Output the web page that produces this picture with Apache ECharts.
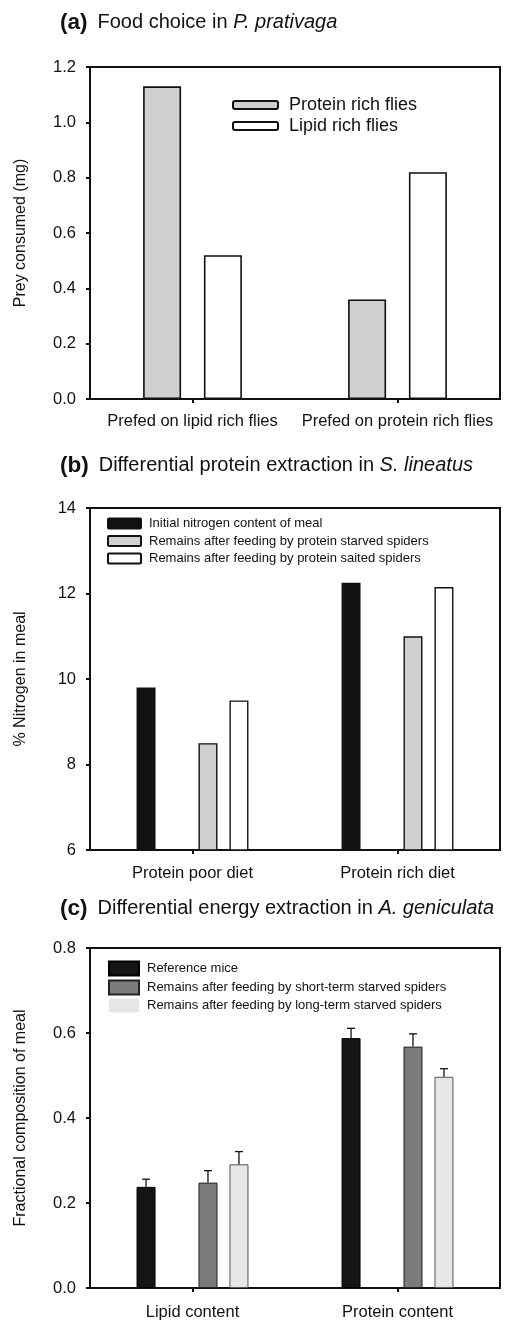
<!DOCTYPE html>
<html>
<head>
<meta charset="utf-8">
<script src="https://cdn.jsdelivr.net/npm/echarts@6/dist/echarts.min.js"></script>
<style>
html,body{margin:0;padding:0;background:#fff;}
#chart{width:509px;height:1323px;}
</style>
</head>
<body>
<div id="chart"></div>
<script>
// ---- Panel (a) data ----
const catsA = ['Prefed on lipid rich flies', 'Prefed on protein rich flies'];
const proteinRichFlies = [1.13, 0.36];
const lipidRichFlies = [0.52, 0.82];
const ticksA = [0, 0.2, 0.4, 0.6, 0.8, 1.0, 1.2];

// ---- Panel (b) data ----
const catsB = ['Protein poor diet', 'Protein rich diet'];
const initialNitrogen = [9.8, 12.25];
const proteinStarved = [8.5, 11.0];
const proteinSated = [9.5, 12.15];
const ticksB = [6, 8, 10, 12, 14];

// ---- Panel (c) data ----
const catsC = ['Lipid content', 'Protein content'];
const referenceMice = [0.238, 0.588];
const shortTermStarved = [0.248, 0.568];
const longTermStarved = [0.291, 0.497];
const errReference = [0.018, 0.023];
const errShort = [0.028, 0.030];
const errLong = [0.030, 0.019];
const ticksC = [0, 0.2, 0.4, 0.6, 0.8];

const FONT = 'Liberation Sans, Arial, Helvetica, sans-serif';
const INK = '#111';

const chart = echarts.init(document.getElementById('chart'), null, {renderer: 'canvas'});

const BW_A = 38, GAP_A = 0.6;
const BW_BC = 19, GAP_BC = 0.63;

function titleText(tag, plain, ital) {
  return '{b|' + tag + '}{s| }{n|' + plain + '}{i|' + ital + '}';
}
const titleRich = {
  b: {fontFamily: FONT, fontWeight: 'bold', fontSize: 22.5, color: INK},
  s: {fontFamily: FONT, fontWeight: 'normal', fontSize: 20, width: 10, color: INK},
  n: {fontFamily: FONT, fontWeight: 'normal', fontSize: 20, color: INK},
  i: {fontFamily: FONT, fontWeight: 'normal', fontSize: 20, fontStyle: 'italic', color: INK}
};

function yAxisCfg(gi, min, max, interval, name, fmt) {
  return {
    type: 'value', gridIndex: gi, min: min, max: max, interval: interval,
    name: name, nameLocation: 'middle', nameGap: 61,
    nameTextStyle: {fontFamily: FONT, fontSize: 16, color: INK},
    axisLine: {show: true, lineStyle: {color: INK, width: 2}},
    axisTick: {show: true, length: 4, lineStyle: {color: INK, width: 2}},
    axisLabel: {fontFamily: FONT, fontSize: 16.5, color: INK, margin: 14, formatter: fmt},
    splitLine: {show: false}
  };
}
function xAxisCfg(gi, cats, size, margin) {
  return {
    type: 'category', gridIndex: gi, data: cats,
    axisLine: {show: true, lineStyle: {color: INK, width: 2}},
    axisTick: {show: true, alignWithLabel: true, length: 4, lineStyle: {color: INK, width: 2}},
    axisLabel: {fontFamily: FONT, fontSize: size, color: INK, margin: margin, interval: 0},
    splitLine: {show: false}
  };
}

function errRender(bw, gap) {
  return function (params, api) {
    const ci = api.value(0), v = api.value(1), e = api.value(2), slot = api.value(3);
    const off = (slot - 1.5) * bw * (1 + gap);
    const p0 = api.coord([ci, v]);
    const p1 = api.coord([ci, v + e]);
    const x = p0[0] + off;
    const st = {stroke: INK, lineWidth: 1.3};
    return {
      type: 'group',
      children: [
        {type: 'line', shape: {x1: x, y1: p0[1], x2: x, y2: p1[1]}, style: st},
        {type: 'line', shape: {x1: x - 4, y1: p1[1], x2: x + 4, y2: p1[1]}, style: st}
      ]
    };
  };
}
function errData(vals, errs, slot) {
  return vals.map((v, i) => [i, v, errs[i], slot]);
}

const option = {
  animation: false,
  backgroundColor: '#fff',
  title: [
    {text: titleText('(a)', 'Food choice in ', 'P. prativaga'), left: 60, top: 11, padding: 0, textStyle: {fontWeight: 'normal', rich: titleRich}},
    {text: titleText('(b)', 'Differential protein extraction in ', 'S. lineatus'), left: 60, top: 454, padding: 0, textStyle: {fontWeight: 'normal', rich: titleRich}},
    {text: titleText('(c)', 'Differential energy extraction in ', 'A. geniculata'), left: 60, top: 897, padding: 0, textStyle: {fontWeight: 'normal', rich: titleRich}}
  ],
  legend: [
    {
      orient: 'vertical', left: 232, top: 96, padding: 0, itemWidth: 45, itemHeight: 8, itemGap: 3,
      icon: 'roundRect',
      data: ['Protein rich flies', 'Lipid rich flies'],
      textStyle: {fontFamily: FONT, fontSize: 18, color: INK, padding: [0, 0, 0, 6]},
      selectedMode: false
    },
    {
      orient: 'vertical', left: 107, top: 517, padding: 0, itemWidth: 33, itemHeight: 10, itemGap: 4.5,
      icon: 'path://M1,0 L32,0 Q33,0 33,1 L33,9 Q33,10 32,10 L1,10 Q0,10 0,9 L0,1 Q0,0 1,0 Z',
      data: ['Initial nitrogen content of meal', 'Remains after feeding by protein starved spiders', 'Remains after feeding by protein saited spiders'],
      textStyle: {fontFamily: FONT, fontSize: 13, color: INK, padding: [0, 0, 0, 3]},
      selectedMode: false
    },
    {
      orient: 'vertical', left: 108, top: 960.5, padding: 0, itemWidth: 30, itemHeight: 14, itemGap: 3,
      icon: 'rect',
      data: ['Reference mice', 'Remains after feeding by short-term starved spiders',
        {name: 'Remains after feeding by long-term starved spiders', itemStyle: {borderWidth: 0}}],
      textStyle: {fontFamily: FONT, fontSize: 13, color: INK, padding: [0, 0, 0, 3]},
      selectedMode: false
    }
  ],
  grid: [
    {left: 90, right: 9, top: 67, height: 332, show: true, borderColor: INK, borderWidth: 2, backgroundColor: 'transparent'},
    {left: 90, right: 9, top: 508, height: 342, show: true, borderColor: INK, borderWidth: 2, backgroundColor: 'transparent'},
    {left: 90, right: 9, top: 948, height: 340, show: true, borderColor: INK, borderWidth: 2, backgroundColor: 'transparent'}
  ],
  xAxis: [
    xAxisCfg(0, catsA, 16.5, 14),
    xAxisCfg(1, catsB, 16.5, 15),
    xAxisCfg(2, catsC, 16.5, 16)
  ],
  yAxis: [
    yAxisCfg(0, ticksA[0], ticksA[ticksA.length - 1], 0.2, 'Prey consumed (mg)', v => v.toFixed(1)),
    yAxisCfg(1, ticksB[0], ticksB[ticksB.length - 1], 2, '% Nitrogen in meal', v => String(v)),
    yAxisCfg(2, ticksC[0], ticksC[ticksC.length - 1], 0.2, 'Fractional composition of meal', v => v.toFixed(1))
  ],
  series: [
    // panel a
    {name: 'Protein rich flies', type: 'bar', xAxisIndex: 0, yAxisIndex: 0, data: proteinRichFlies,
      barWidth: BW_A, barGap: (GAP_A * 100) + '%',
      itemStyle: {color: '#cfcfcf', borderColor: INK, borderWidth: 1.6}},
    {name: 'Lipid rich flies', type: 'bar', xAxisIndex: 0, yAxisIndex: 0, data: lipidRichFlies,
      barWidth: BW_A, barGap: (GAP_A * 100) + '%',
      itemStyle: {color: '#ffffff', borderColor: INK, borderWidth: 1.6}},
    // panel b
    {name: 'Initial nitrogen content of meal', type: 'bar', xAxisIndex: 1, yAxisIndex: 1, data: initialNitrogen,
      barWidth: BW_BC, barGap: (GAP_BC * 100) + '%',
      itemStyle: {color: '#111111', borderColor: INK, borderWidth: 1.4}},
    {name: '_gapB', type: 'bar', xAxisIndex: 1, yAxisIndex: 1, data: [null, null],
      barWidth: BW_BC, barGap: (GAP_BC * 100) + '%'},
    {name: 'Remains after feeding by protein starved spiders', type: 'bar', xAxisIndex: 1, yAxisIndex: 1, data: proteinStarved,
      barWidth: BW_BC, barGap: (GAP_BC * 100) + '%',
      itemStyle: {color: '#d0d0d0', borderColor: INK, borderWidth: 1.4}},
    {name: 'Remains after feeding by protein saited spiders', type: 'bar', xAxisIndex: 1, yAxisIndex: 1, data: proteinSated,
      barWidth: BW_BC, barGap: (GAP_BC * 100) + '%',
      itemStyle: {color: '#ffffff', borderColor: INK, borderWidth: 1.4}},
    // panel c
    {name: 'Reference mice', type: 'bar', xAxisIndex: 2, yAxisIndex: 2, data: referenceMice,
      barWidth: BW_BC, barGap: (GAP_BC * 100) + '%',
      itemStyle: {color: '#151515', borderColor: '#000', borderWidth: 1}},
    {name: '_gapC', type: 'bar', xAxisIndex: 2, yAxisIndex: 2, data: [null, null],
      barWidth: BW_BC, barGap: (GAP_BC * 100) + '%'},
    {name: 'Remains after feeding by short-term starved spiders', type: 'bar', xAxisIndex: 2, yAxisIndex: 2, data: shortTermStarved,
      barWidth: BW_BC, barGap: (GAP_BC * 100) + '%',
      itemStyle: {color: '#7b7b7b', borderColor: '#222', borderWidth: 1}},
    {name: 'Remains after feeding by long-term starved spiders', type: 'bar', xAxisIndex: 2, yAxisIndex: 2, data: longTermStarved,
      barWidth: BW_BC, barGap: (GAP_BC * 100) + '%',
      itemStyle: {color: '#e6e6e6', borderColor: '#555', borderWidth: 1}},
    // error bars (c)
    {name: '_errRef', type: 'custom', xAxisIndex: 2, yAxisIndex: 2, z: 5, renderItem: errRender(BW_BC, GAP_BC), data: errData(referenceMice, errReference, 0)},
    {name: '_errShort', type: 'custom', xAxisIndex: 2, yAxisIndex: 2, z: 5, renderItem: errRender(BW_BC, GAP_BC), data: errData(shortTermStarved, errShort, 2)},
    {name: '_errLong', type: 'custom', xAxisIndex: 2, yAxisIndex: 2, z: 5, renderItem: errRender(BW_BC, GAP_BC), data: errData(longTermStarved, errLong, 3)}
  ]
};
chart.setOption(option);
</script>
</body>
</html>
